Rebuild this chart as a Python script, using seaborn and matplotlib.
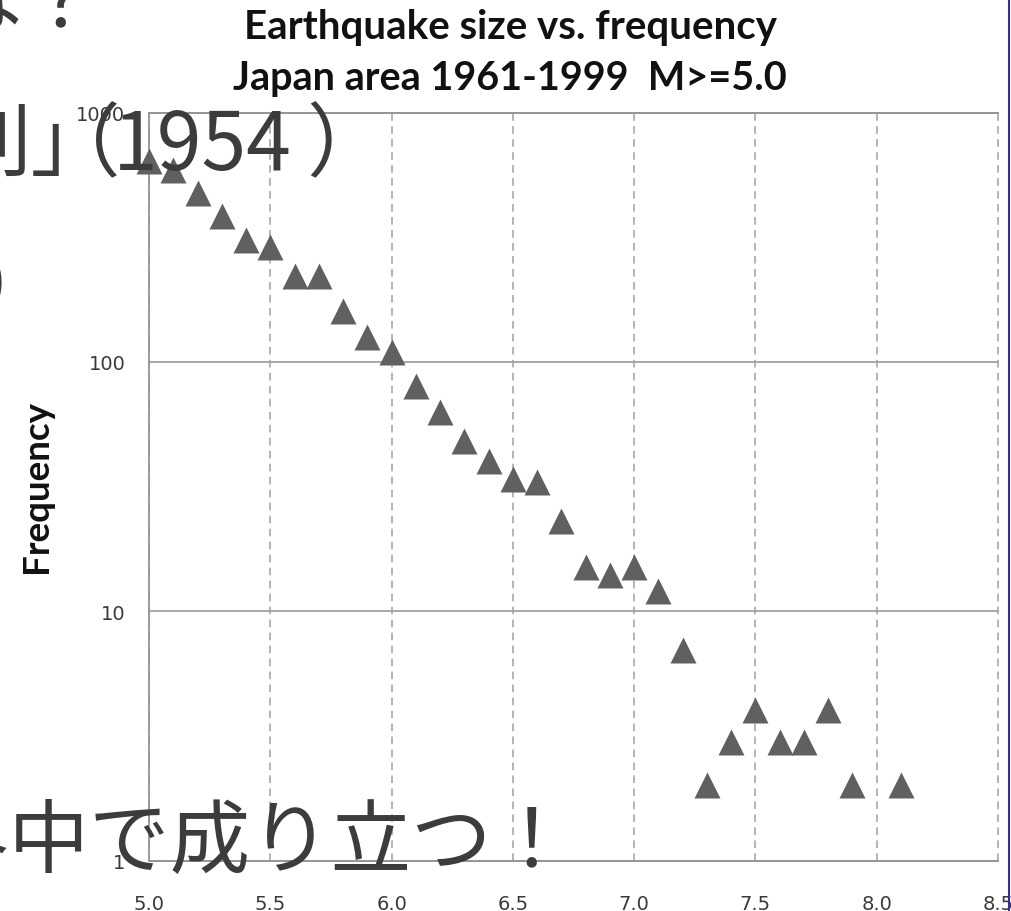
import seaborn as sns
from matplotlib import pyplot as plt
from matplotlib.lines import Line2D
import pandas as pd

# magnitude bins (0.1 step, no event at 8.0) and counts
magnitude = [5.0, 5.1, 5.2, 5.3, 5.4, 5.5, 5.6, 5.7, 5.8, 5.9,
             6.0, 6.1, 6.2, 6.3, 6.4, 6.5, 6.6, 6.7, 6.8, 6.9,
             7.0, 7.1, 7.2, 7.3, 7.4, 7.5, 7.6, 7.7, 7.8, 7.9, 8.1]
frequency = [640, 590, 475, 383, 309, 288, 220, 220, 160, 126,
             110, 80, 63, 48, 40, 34, 33, 23, 15, 14,
             15, 12, 7, 2, 3, 4, 3, 3, 4, 2, 2]

x_ticks = [5.0, 5.5, 6.0, 6.5, 7.0, 7.5, 8.0, 8.5]
y_ticks = [1, 10, 100, 1000]

title_lines = ["Earthquake size vs. frequency", "Japan area 1961-1999  M>=5.0"]

df = pd.DataFrame({"Magnitude": magnitude, "Frequency": frequency})

W, H = 1011, 912
sns.set_style("white")
plt.rcParams['font.family'] = ['DejaVu Sans']


def fx(px):
    return px / W


def fy(py):
    return 1 - py / H


fig = plt.figure(figsize=(W / 100, H / 100), dpi=100)
ax = fig.add_axes([fx(149), fy(861.5), (998 - 149) / W, (861.5 - 113.5) / H])

sns.scatterplot(data=df, x="Magnitude", y="Frequency", marker="^", s=350,
                color="#606060", linewidth=0, ax=ax, zorder=3, clip_on=False)

ax.set_yscale("log")
ax.set_xlim(5.0, 8.5)
ax.set_ylim(1, 1000)
ax.set_xticks(x_ticks)
ax.set_xticklabels([f"{v:.1f}" for v in x_ticks])
ax.set_yticks(y_ticks)
ax.set_yticklabels([str(v) for v in y_ticks])
ax.minorticks_off()
ax.set_xlabel("")
ax.set_ylabel("")
ax.tick_params(axis="x", length=0, pad=24, labelsize=14, labelcolor="#3a3a3a")
ax.tick_params(axis="y", length=0, pad=17, labelsize=14, labelcolor="#3a3a3a")

ax.grid(axis="y", color="#a0a0a0", lw=1.3, ls="-")
ax.grid(axis="x", color="#a0a0a0", lw=1.1, ls=(0, (5, 3.5)))
for gl in ax.get_xgridlines() + ax.get_ygridlines():
    gl.set_clip_on(False)
ax.set_axisbelow(True)

for side in ["left", "bottom", "top"]:
    ax.spines[side].set_color("#959595")
    ax.spines[side].set_linewidth(1.3)
ax.spines["right"].set_visible(False)

# title and y label
fig.text(fx(510), fy(39), title_lines[0], ha="center", va="baseline",
         fontsize=29, fontweight="bold", family="Lato", color="#111111")
fig.text(fx(510), fy(90), title_lines[1], ha="center", va="baseline",
         fontsize=28.5, fontweight="bold", family="Lato", color="#111111")
fig.text(fx(36), fy(487), "Frequency", ha="center", va="center", rotation=90,
         fontsize=26.5, fontweight="bold", family="Lato", color="#111111")

# slide text lying over the chart
jp = dict(fontsize=58, color="#3c3c3c", family=["Noto Sans CJK JP", "DejaVu Sans"],
          va="baseline", ha="left", zorder=5)
fig.text(fx(-58), fy(27), "は？", **jp)
fig.text(fx(-50), fy(170), "則」", **jp)
fig.text(fx(40), fy(170), "（", **jp)
fig.text(fx(113), fy(170), "1954", **jp)
fig.text(fx(306), fy(170), "）", **jp)
fig.text(fx(-24), fy(313), "）", **jp)
fig.text(fx(-72), fy(867), "界中で成り立つ！", **jp)

# slide border on the right
fig.add_artist(Line2D([fx(1008.5), fx(1008.5)], [0, 1], color="#2e2e9e", lw=1.5))

fig.savefig("out.png", dpi=100)
